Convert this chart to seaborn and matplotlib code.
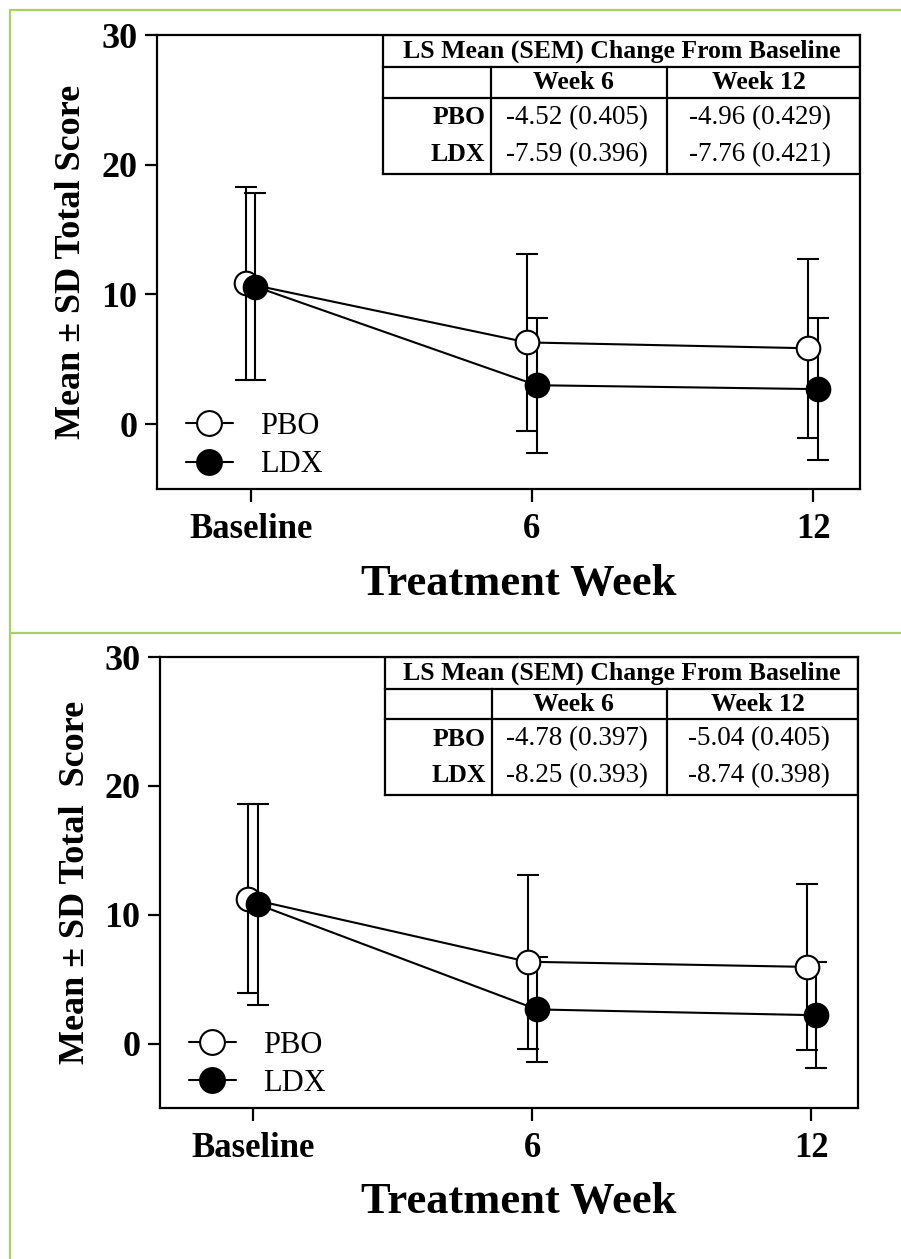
import matplotlib
matplotlib.use('Agg')
import matplotlib.pyplot as plt
from matplotlib.lines import Line2D
import seaborn as sns

# -----------------------------
# DATA
# -----------------------------

weeks = [0, 6, 12]
week_labels = ['Baseline', '6', '12']

# top panel
top_pbo_mean = [10.85, 6.3, 5.85]
top_pbo_sd = [7.45, 6.85, 6.9]
top_ldx_mean = [10.6, 3.0, 2.7]
top_ldx_sd = [7.2, 5.2, 5.5]

# bottom panel
bot_pbo_mean = [11.25, 6.35, 5.95]
bot_pbo_sd = [7.35, 6.75, 6.45]
bot_ldx_mean = [10.8, 2.65, 2.2]
bot_ldx_sd = [7.8, 4.1, 4.1]

# LS mean tables
table_title = 'LS Mean (SEM) Change From Baseline'
table_cols = ['Week 6', 'Week 12']
table_rows = ['PBO', 'LDX']
top_table = [['-4.52 (0.405)', '-4.96 (0.429)'],
             ['-7.59 (0.396)', '-7.76 (0.421)']]
bot_table = [['-4.78 (0.397)', '-5.04 (0.405)'],
             ['-8.25 (0.393)', '-8.74 (0.398)']]

# -----------------------------
# STYLE
# -----------------------------

sns.set_style('ticks')
plt.rcParams['font.family'] = ['Liberation Serif', 'DejaVu Serif']
plt.rcParams['axes.linewidth'] = 1.6
for k in ['text.color', 'axes.labelcolor', 'xtick.color', 'ytick.color',
          'axes.edgecolor']:
    plt.rcParams[k] = 'black'

fig = plt.figure(figsize=(9.01, 12.59), dpi=100)

green = '#a9d063'
fig.add_artist(Line2D([10 / 901, 10 / 901], [0, 1 - 10 / 1259], color=green, lw=1.6))
fig.add_artist(Line2D([10 / 901, 1], [1 - 10 / 1259, 1 - 10 / 1259], color=green, lw=1.6))
fig.add_artist(Line2D([10 / 901, 1], [1 - 633 / 1259, 1 - 633 / 1259], color=green, lw=1.6))


def draw_panel(ax, pbo_mean, pbo_sd, ldx_mean, ldx_sd, table, ylabel):
    off = 0.1
    x_pbo = [w - off for w in weeks]
    x_ldx = [w + off for w in weeks]

    # SD bars
    ax.errorbar(x_pbo, pbo_mean, yerr=pbo_sd, fmt='none', ecolor='black',
                elinewidth=1.5, capsize=8, capthick=1.5, zorder=2)
    ax.errorbar(x_ldx, ldx_mean, yerr=ldx_sd, fmt='none', ecolor='black',
                elinewidth=1.5, capsize=8, capthick=1.5, zorder=2)

    # mean lines
    sns.lineplot(x=x_pbo, y=pbo_mean, ax=ax, color='black', linewidth=1.5,
                 marker='o', markersize=17, markerfacecolor='white',
                 markeredgecolor='black', markeredgewidth=1.5,
                 label='PBO', zorder=3)
    sns.lineplot(x=x_ldx, y=ldx_mean, ax=ax, color='black', linewidth=1.5,
                 marker='o', markersize=17, markerfacecolor='black',
                 markeredgecolor='black', markeredgewidth=1.5,
                 label='LDX', zorder=4)

    ax.set_xlim(-2, 13)
    ax.set_ylim(-5, 30)
    ax.set_xticks(weeks)
    ax.set_xticklabels(week_labels)
    ax.set_yticks([0, 10, 20, 30])
    for s in ax.spines.values():
        s.set_visible(True)
        s.set_linewidth(1.6)
        s.set_color('black')
    ax.tick_params(axis='y', length=9, width=1.6, pad=5, labelsize=26)
    ax.tick_params(axis='x', length=9, width=1.6, pad=8, labelsize=25)
    for lab in ax.get_xticklabels() + ax.get_yticklabels():
        lab.set_fontweight('bold')

    ax.set_xlabel('Treatment Week', fontsize=32, fontweight='bold')
    ax.xaxis.set_label_coords(0.514, -0.165)
    ax.set_ylabel(ylabel, fontsize=26, fontweight='bold')
    ax.yaxis.set_label_coords(-0.098, 0.5)

    ax.legend(loc='lower left', bbox_to_anchor=(0.0015, -0.039),
              frameon=False, fontsize=22, handlelength=1.55,
              handletextpad=0.9, labelspacing=0.3, markerscale=1.05)

    # table
    x0, x1, x2, x3 = 0.322, 0.475, 0.726, 1.0
    y0, y1, y2, y3 = 1.0, 0.929, 0.862, 0.694
    lw = 1.6
    kw = dict(transform=ax.transAxes, color='black', lw=lw, zorder=5,
              solid_capstyle='projecting')
    ax.add_line(Line2D([x0, x3], [y0, y0], **kw))
    ax.add_line(Line2D([x0, x3], [y1, y1], **kw))
    ax.add_line(Line2D([x0, x3], [y2, y2], **kw))
    ax.add_line(Line2D([x0, x3], [y3, y3], **kw))
    ax.add_line(Line2D([x0, x0], [y0, y3], **kw))
    ax.add_line(Line2D([x1, x1], [y1, y3], **kw))
    ax.add_line(Line2D([x2, x2], [y1, y3], **kw))
    ax.add_line(Line2D([x3, x3], [y0, y3], **kw))

    ax.text((x0 + x3) / 2, (y0 + y1) / 2, table_title, transform=ax.transAxes,
            ha='center', va='center', fontsize=18.5, fontweight='bold')
    col_x = [0.592, 0.856]
    for cx, c in zip(col_x, table_cols):
        ax.text(cx, (y1 + y2) / 2, c, transform=ax.transAxes, ha='center',
                va='center', fontsize=18.5, fontweight='bold')
    row_y = [0.818, 0.737]
    for ry, r, vals in zip(row_y, table_rows, table):
        ax.text(x1 - 0.008, ry, r, transform=ax.transAxes, ha='right',
                va='center', fontsize=18.5, fontweight='bold')
        for cx, v in zip([0.598, 0.858], vals):
            ax.text(cx, ry, v, transform=ax.transAxes, ha='center',
                    va='center', fontsize=19.5)


ax1 = fig.add_axes([157 / 901, 1 - 489 / 1259, 703 / 901, 454 / 1259])
draw_panel(ax1, top_pbo_mean, top_pbo_sd, top_ldx_mean, top_ldx_sd,
           top_table, 'Mean \u00b1 SD Total Score')

ax2 = fig.add_axes([160 / 901, 1 - 1108 / 1259, 698 / 901, 451 / 1259])
draw_panel(ax2, bot_pbo_mean, bot_pbo_sd, bot_ldx_mean, bot_ldx_sd,
           bot_table, 'Mean \u00b1 SD Total  Score')

fig.savefig('out.png', dpi=100)
